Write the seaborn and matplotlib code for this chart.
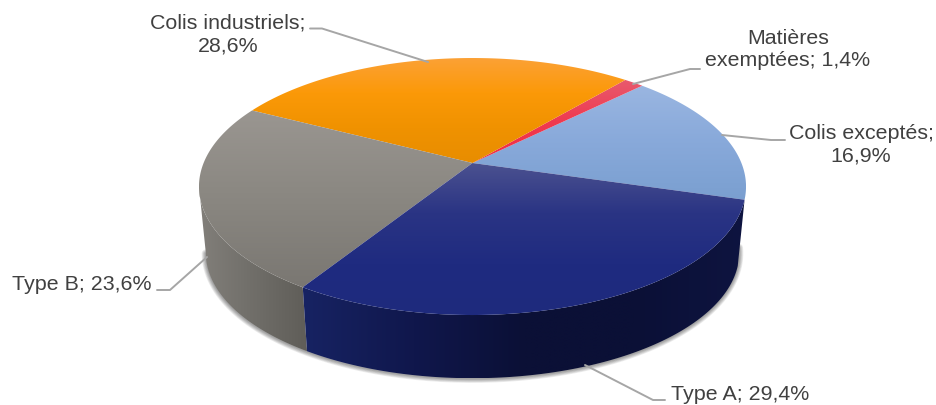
import numpy as np
import matplotlib
matplotlib.use("Agg")
import matplotlib.pyplot as plt
from matplotlib.patches import Polygon
import seaborn as sns

# Share of each transport category, counter-clockwise from the Type A / exceptés seam
categories = ["Colis exceptés", "Matières exemptées", "Colis industriels", "Type B", "Type A"]
values = [16.9, 1.4, 28.6, 23.6, 29.4]
label_templates = ["Colis exceptés;\n{}", "Matières\nexemptées; {}", "Colis industriels;\n{}",
                   "Type B; {}", "Type A; {}"]

# Vertical shading of the top face, top to bottom
top_shades = [
    ["#9ab6e1", "#88a9da", "#7a9fd0"],
    ["#e85a6e", "#ef3a50", "#f02c45"],
    ["#fca135", "#fb9908", "#f09200", "#e88d00"],
    ["#9a9691", "#8a8781", "#7a7772"],
    ["#4c5290", "#2a3484", "#1f2b80", "#1e2a7d"],
]
# Horizontal shading of the rim, left to right (only front slices show a rim)
rim_shades = {
    3: ["#827f7a", "#706e69", "#5f5d58"],
    4: ["#172363", "#10174c", "#0b1036", "#0b1036", "#0e1440"],
}

START_DEG = -16.3
CX, CY = 472.5, 163.0
A, B, K = 268.9, 124.2, 0.183          # disc radii and perspective strength
RIM_DROP, RIM_SCALE = 67.0, 0.975      # lower disc offset and shrink

LEADERS = [
    [(722, 135), (771, 140), (785, 140)],
    [(633, 84), (690, 69), (700, 69)],
    [(310, 28.5), (322, 28.5), (428, 62)],
    [(207, 257), (170, 290), (157, 290)],
    [(585, 365), (653, 400), (665, 400)],
]
LABEL_POS = [(861, 145, "center"), (788, 49.5, "center"), (228, 34.5, "center"),
             (12, 284, "left"), (671, 395, "left")]


def project(deg, drop=0.0, scale=1.0):
    """Perspective projection of points on the unit disc to canvas pixels."""
    t = np.radians(deg)
    w = 1 + K * np.sin(t)
    x = CX + scale * A * np.cos(t) / w
    y = CY + drop - scale * B * np.sin(t) / w
    return np.column_stack([x, y])


def gradient_fill(ax, verts, colors, vertical=True, zorder=3):
    """Paint a polygon with a linear gradient blended from the given colours."""
    cmap = sns.blend_palette(colors, as_cmap=True)
    x0, y0 = verts.min(axis=0)
    x1, y1 = verts.max(axis=0)
    ramp = np.linspace(0, 1, 256)
    grid = ramp[:, None] if vertical else ramp[None, :]
    im = ax.imshow(grid, cmap=cmap, extent=(x0, x1, y1, y0), origin="upper",
                   aspect="auto", zorder=zorder, interpolation="bilinear")
    im.set_clip_path(Polygon(verts, closed=True, transform=ax.transData))


sns.set_theme(style="white")
plt.rcParams["font.family"] = ["Liberation Sans", "DejaVu Sans"]

fig = plt.figure(figsize=(9.37, 4.05), dpi=100, facecolor="white")
ax = fig.add_axes([0, 0, 1, 1])
ax.set_axis_off()

shares = np.array(values) / sum(values) * 360
edges = START_DEG + np.concatenate([[0], np.cumsum(shares)])

# The rim silhouette touches the disc where the projected x is extreme
silhouette_deg = 180.0 + np.degrees(np.arcsin(K))

# Soft shadow under the rim
shadow = project(np.linspace(silhouette_deg, 352, 200), RIM_DROP + 0.5, RIM_SCALE)
for lw in np.arange(1.0, 6.5, 1.0):
    ax.plot(shadow[:, 0], shadow[:, 1], color="black", alpha=0.07, lw=lw,
            solid_capstyle="round", zorder=1)

# Rim of the front slices
for i, colors in rim_shades.items():
    a0, a1 = edges[i], edges[i + 1]
    a0 = max(a0, silhouette_deg)
    arc = np.linspace(a0, a1, 120)
    verts = np.vstack([project(arc), project(arc[::-1], RIM_DROP, RIM_SCALE)])
    gradient_fill(ax, verts, colors, vertical=False, zorder=2)

# Top face, slice by slice
for i, colors in enumerate(top_shades):
    arc = np.linspace(edges[i], edges[i + 1], 120)
    verts = np.vstack([[CX, CY], project(arc)])
    gradient_fill(ax, verts, colors, vertical=True, zorder=3)

# Leader lines and labels
for path in LEADERS:
    xs, ys = zip(*path)
    ax.plot(xs, ys, color="#a6a6a6", lw=1.4, zorder=4, solid_joinstyle="round")

for template, val, (x, y, ha) in zip(label_templates, values, LABEL_POS):
    text = template.format(f"{val:.1f}%".replace(".", ","))
    ax.text(x, y, text, ha=ha, va="center", ma="center", fontsize=15.4,
            color="#404040", linespacing=1.22, zorder=5)

ax.set_xlim(0, 937)
ax.set_ylim(405, 0)
fig.savefig("out.png", dpi=100, facecolor="white")
